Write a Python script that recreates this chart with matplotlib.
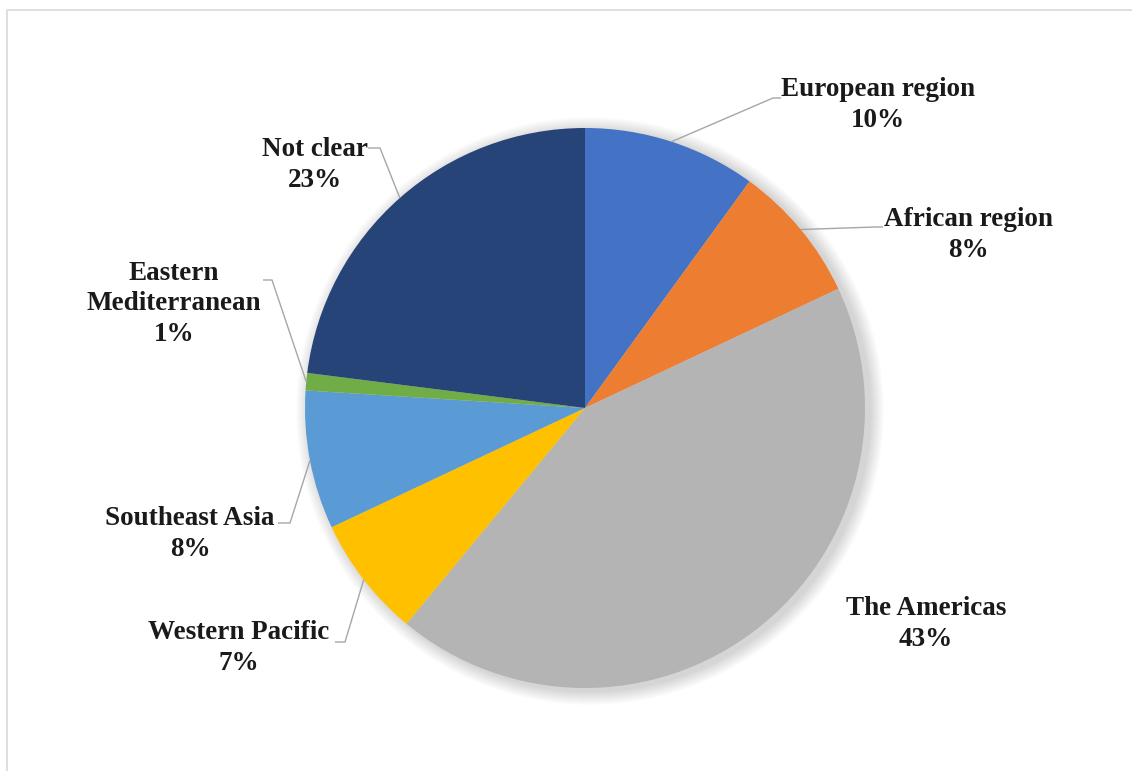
import numpy as np
import matplotlib
matplotlib.use("Agg")
import matplotlib.pyplot as plt
from matplotlib.patches import Circle

# share of cases by WHO region
regions = ["European region", "African region", "The Americas", "Western Pacific",
           "Southeast Asia", "Eastern\nMediterranean", "Not clear"]
shares = [10, 8, 43, 7, 8, 1, 23]
colors = ["#4472C4", "#ED7D31", "#B4B4B4", "#FFC000", "#5B9BD5", "#70AD47", "#264478"]

W, H = 1132, 771
fig = plt.figure(figsize=(W / 100, H / 100), dpi=100)
ax = fig.add_axes([0, 0, 1, 1])

cx, cy, r = 585, H - 408, 280

# soft shadow behind the pie
for k in range(14):
    ax.add_patch(Circle((cx + 5, cy - 3), r + 14 - k, color="black", alpha=0.012, lw=0, zorder=0))

wedges, _ = ax.pie(shares, colors=colors, startangle=90, counterclock=False,
                   center=(cx, cy), radius=r, frame=True,
                   wedgeprops=dict(linewidth=0))
ax.set_xlim(0, W)
ax.set_ylim(0, H)
ax.axis("off")

# label layout: text centre, leader elbow, leader end (pixels from top-left)
layout = [
    ((878, 105), (773, 98), (781, 98)),
    ((968, 235), (875, 227), (883, 227)),
    ((926, 624), None, None),
    ((239, 648), (345, 642), (335, 642)),
    ((190, 534), (290, 523), (278, 523)),
    ((174, 304), (272, 280), (263, 280)),
    ((315, 165), (380, 148), (368, 148)),
]

for w, name, val, (txt, elbow, end) in zip(wedges, regions, shares, layout):
    ax.text(txt[0], H - txt[1], f"{name}\n{val}%", ha="center", va="center",
            family="Liberation Serif", fontweight="bold", fontsize=19.5,
            linespacing=1.3, color="#1a1a1a", zorder=5)
    if elbow is None:
        continue
    mid = np.deg2rad((w.theta1 + w.theta2) / 2)
    ax_x = cx + r * np.cos(mid)
    ax_y = cy + r * np.sin(mid)
    ax.plot([ax_x, elbow[0], end[0]], [ax_y, H - elbow[1], H - end[1]],
            color="#A6A6A6", lw=1, zorder=4, solid_capstyle="butt")

# thin frame around the chart area
ax.plot([7, 7, W], [0, H - 10, H - 10], color="#D9D9D9", lw=1.2, zorder=1)

fig.savefig("out.png", dpi=100)
